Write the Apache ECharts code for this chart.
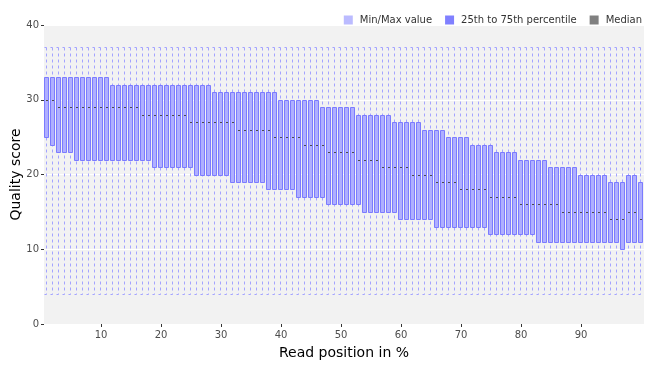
<!DOCTYPE html>
<html>
<head>
<meta charset="utf-8">
<script src="https://cdn.jsdelivr.net/npm/echarts@6/dist/echarts.min.js"></script>
<style>
html,body{margin:0;padding:0;background:#fff;}
#chart{width:665px;height:365px;}
</style>
</head>
<body>
<div id="chart"></div>
<script>
// Read positions (percent of read length)
const positions = [
  1,2,3,4,5,6,7,8,9,10,
  11,12,13,14,15,16,17,18,19,20,
  21,22,23,24,25,26,27,28,29,30,
  31,32,33,34,35,36,37,38,39,40,
  41,42,43,44,45,46,47,48,49,50,
  51,52,53,54,55,56,57,58,59,60,
  61,62,63,64,65,66,67,68,69,70,
  71,72,73,74,75,76,77,78,79,80,
  81,82,83,84,85,86,87,88,89,90,
  91,92,93,94,95,96,97,98,99,100
];
const minValues = [
  4,4,4,4,4,4,4,4,4,4, 4,4,4,4,4,4,4,4,4,4,
  4,4,4,4,4,4,4,4,4,4, 4,4,4,4,4,4,4,4,4,4,
  4,4,4,4,4,4,4,4,4,4, 4,4,4,4,4,4,4,4,4,4,
  4,4,4,4,4,4,4,4,4,4, 4,4,4,4,4,4,4,4,4,4,
  4,4,4,4,4,4,4,4,4,4, 4,4,4,4,4,4,4,4,4,4
];
const q1Values = [
  25,24,23,23,23,22,22,22,22,22,
  22,22,22,22,22,22,22,22,21,21,
  21,21,21,21,21,20,20,20,20,20,
  20,19,19,19,19,19,19,18,18,18,
  18,18,17,17,17,17,17,16,16,16,
  16,16,16,15,15,15,15,15,15,14,
  14,14,14,14,14,13,13,13,13,13,
  13,13,13,13,12,12,12,12,12,12,
  12,12,11,11,11,11,11,11,11,11,
  11,11,11,11,11,11,10,11,11,11
];
const medianValues = [
  30,30,29,29,29,29,29,29,29,29,
  29,29,29,29,29,29,28,28,28,28,
  28,28,28,28,27,27,27,27,27,27,
  27,27,26,26,26,26,26,26,25,25,
  25,25,25,24,24,24,24,23,23,23,
  23,23,22,22,22,22,21,21,21,21,
  21,20,20,20,20,19,19,19,19,18,
  18,18,18,18,17,17,17,17,17,16,
  16,16,16,16,16,16,15,15,15,15,
  15,15,15,15,14,14,14,15,15,14
];
const q3Values = [
  33,33,33,33,33,33,33,33,33,33,
  33,32,32,32,32,32,32,32,32,32,
  32,32,32,32,32,32,32,32,31,31,
  31,31,31,31,31,31,31,31,31,30,
  30,30,30,30,30,30,29,29,29,29,
  29,29,28,28,28,28,28,28,27,27,
  27,27,27,26,26,26,26,25,25,25,
  25,24,24,24,24,23,23,23,23,22,
  22,22,22,22,21,21,21,21,21,20,
  20,20,20,20,19,19,19,20,20,19
];
const maxValues = [
  37,37,37,37,37,37,37,37,37,37, 37,37,37,37,37,37,37,37,37,37,
  37,37,37,37,37,37,37,37,37,37, 37,37,37,37,37,37,37,37,37,37,
  37,37,37,37,37,37,37,37,37,37, 37,37,37,37,37,37,37,37,37,37,
  37,37,37,37,37,37,37,37,37,37, 37,37,37,37,37,37,37,37,37,37,
  37,37,37,37,37,37,37,37,37,37, 37,37,37,37,37,37,37,37,37,37
];
const yTicks = [0, 10, 20, 30, 40];
const xTickLabels = [10, 20, 30, 40, 50, 60, 70, 80, 90];
const legendNames = ['Min/Max value', '25th to 75th percentile', 'Median'];

const FONT = 'DejaVu Sans';
const rows = positions.map((p, i) => [i, minValues[i], q1Values[i], medianValues[i], q3Values[i], maxValues[i]]);

function boxLeft(api, idx) {
  const c = api.coord([idx, 0]);
  const band = api.size([1, 0])[0];
  return Math.round(c[0] - band / 2) + 0.5;
}
function crispY(y) { return Math.round(y) + 0.5; }

const WHISKER = '#a3a3ff';
function renderWhisker(params, api) {
  const idx = api.value(0);
  const left = boxLeft(api, idx);
  const cx = left + 2;
  const yMin = crispY(api.coord([idx, api.value(1)])[1]);
  const yMax = crispY(api.coord([idx, api.value(5)])[1]);
  return {
    type: 'group',
    children: [
      { type: 'line', shape: { x1: cx, y1: yMax, x2: cx, y2: yMin }, style: { stroke: WHISKER, lineWidth: 1, lineDash: [3, 3] } },
      { type: 'line', shape: { x1: left, y1: yMax, x2: left + 4, y2: yMax }, style: { stroke: WHISKER, lineWidth: 1, lineDash: [2, 2] } },
      { type: 'line', shape: { x1: left, y1: yMin, x2: left + 4, y2: yMin }, style: { stroke: WHISKER, lineWidth: 1, lineDash: [2, 2] } }
    ]
  };
}
function renderBox(params, api) {
  const idx = api.value(0);
  const left = boxLeft(api, idx);
  const yQ1 = crispY(api.coord([idx, api.value(2)])[1]);
  const yQ3 = crispY(api.coord([idx, api.value(4)])[1]);
  return {
    type: 'rect',
    shape: { x: left, y: yQ3, width: 4, height: yQ1 - yQ3 },
    style: { fill: '#afafff', stroke: '#7b7bff', lineWidth: 1 }
  };
}
function renderMedian(params, api) {
  const idx = api.value(0);
  const left = boxLeft(api, idx);
  const y = crispY(api.coord([idx, api.value(3)])[1]);
  return {
    type: 'line',
    shape: { x1: left + 1.5, y1: y, x2: left + 3.5, y2: y },
    style: { stroke: '#4a4a4a', lineWidth: 1 }
  };
}

const chart = echarts.init(document.getElementById('chart'), null, { renderer: 'canvas' });
chart.setOption({
  animation: false,
  backgroundColor: '#ffffff',
  textStyle: { fontFamily: FONT },
  legend: {
    data: legendNames,
    right: 18,
    top: 10,
    itemWidth: 9,
    itemHeight: 9,
    itemGap: 13,
    icon: 'rect',
    selectedMode: false,
    textStyle: { fontFamily: FONT, fontSize: 10, color: '#333333', padding: [0, 0, 0, 2] }
  },
  grid: {
    left: 44, right: 21, top: 25, bottom: 41,
    containLabel: false,
    outerBoundsMode: 'none',
    show: true, backgroundColor: '#f2f2f2', borderWidth: 0
  },
  xAxis: {
    type: 'category',
    data: positions,
    boundaryGap: true,
    name: 'Read position in %',
    nameLocation: 'middle',
    nameGap: 22,
    nameMoveOverlap: false,
    nameTextStyle: { fontFamily: FONT, fontSize: 14, color: '#000000' },
    axisLine: { show: false },
    axisTick: {
      show: true, alignWithLabel: true, length: 3,
      interval: (i, v) => xTickLabels.indexOf(Number(v)) >= 0,
      lineStyle: { color: '#333333' }
    },
    axisLabel: {
      interval: (i, v) => xTickLabels.indexOf(Number(v)) >= 0,
      fontFamily: FONT, fontSize: 10, color: '#4d4d4d', margin: 6
    },
    splitLine: { show: false }
  },
  yAxis: {
    type: 'value',
    min: yTicks[0], max: yTicks[yTicks.length - 1], interval: 10,
    name: 'Quality score',
    nameLocation: 'middle',
    nameGap: 21,
    nameMoveOverlap: false,
    nameTextStyle: { fontFamily: FONT, fontSize: 14, color: '#000000' },
    axisLine: { show: false },
    axisTick: { show: true, length: 3, lineStyle: { color: '#333333' } },
    axisLabel: { fontFamily: FONT, fontSize: 10, color: '#4d4d4d', margin: 5 },
    splitLine: { show: true, lineStyle: { color: '#ffffff', width: 1 } }
  },
  series: [
    {
      name: legendNames[0], type: 'custom', renderItem: renderWhisker,
      data: rows, itemStyle: { color: '#bbbbff' }, silent: true,
      encode: { x: 0, y: [1, 5] }
    },
    {
      name: legendNames[1], type: 'custom', renderItem: renderBox,
      data: rows, itemStyle: { color: '#8080ff' }, silent: true,
      encode: { x: 0, y: [2, 4] }
    },
    {
      name: legendNames[2], type: 'custom', renderItem: renderMedian,
      data: rows, itemStyle: { color: '#808080' }, silent: true,
      encode: { x: 0, y: 3 }
    }
  ]
});
</script>
</body>
</html>
